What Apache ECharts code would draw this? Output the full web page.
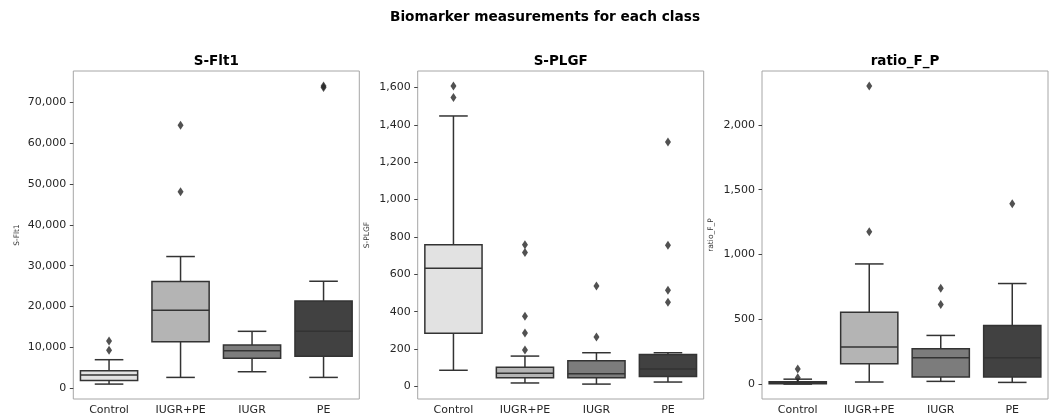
<!DOCTYPE html>
<html>
<head>
<meta charset="utf-8">
<script src="https://cdn.jsdelivr.net/npm/echarts@6/dist/echarts.min.js"></script>
<style>
  html, body { margin: 0; padding: 0; background: #fff; }
  #chart { width: 1057px; height: 419px; }
</style>
</head>
<body>
<div id="chart"></div>
<script>
// Classes shown on every x axis
const categories = ['Control', 'IUGR+PE', 'IUGR', 'PE'];

// Box summaries per class: [lower whisker, Q1, median, Q3, upper whisker]
const sflt1Boxes = [
  [980, 1880, 3190, 4260, 6960],
  [2620, 11380, 19080, 26120, 32260],
  [4010, 7290, 9170, 10560, 13920],
  [2620, 7780, 13920, 21370, 26200]
];
const sflt1Outliers = [[9250, 11540], [48140, 64430], [], [73700, 74100]];

const splgfBoxes = [
  [86, 284, 633, 758, 1448],
  [18, 46, 70, 102, 162],
  [12, 46, 68, 137, 180],
  [23, 52, 93, 171, 180]
];
const splgfOutliers = [[1547, 1609], [194, 285, 375, 717, 758], [264, 537], [450, 514, 755, 1309]];

const ratioBoxes = [
  [2, 5, 12, 20, 40],
  [18, 159, 287, 556, 928],
  [23, 56, 205, 274, 377],
  [15, 56, 205, 454, 777]
];
const ratioOutliers = [[50, 118], [1177, 2300], [615, 741], [1392]];

// Tick values on each y axis
const sflt1Ticks = [0, 10000, 20000, 30000, 40000, 50000, 60000, 70000];
const splgfTicks = [0, 200, 400, 600, 800, 1000, 1200, 1400, 1600];
const ratioTicks = [0, 500, 1000, 1500, 2000];

const panelTitles = ['S-Flt1', 'S-PLGF', 'ratio_F_P'];
const mainTitle = 'Biomarker measurements for each class';

// ---- styling ----
const FONT = 'DejaVu Sans';
const boxFills = ['#e2e2e2', '#b4b4b4', '#7c7c7c', '#414141'];
const edgeColor = '#333333';
const spineColor = '#a6a6a6';
const textColor = '#262626';

const panels = [
  { name: panelTitles[0], boxes: sflt1Boxes, outliers: sflt1Outliers, ticks: sflt1Ticks, left: 73.3, nameGap: 52 },
  { name: panelTitles[1], boxes: splgfBoxes, outliers: splgfOutliers, ticks: splgfTicks, left: 417.7, nameGap: 47 },
  { name: panelTitles[2], boxes: ratioBoxes, outliers: ratioOutliers, ticks: ratioTicks, left: 762, nameGap: 47 }
];
const PLOT_TOP = 71, PLOT_W = 286, PLOT_H = 328;

// Seaborn-style box: filled box, median line, whiskers with half-width caps
function renderBox(params, api) {
  const c = api.value(0);
  const lo = api.coord([c, api.value(1)]);
  const q1 = api.coord([c, api.value(2)]);
  const med = api.coord([c, api.value(3)]);
  const q3 = api.coord([c, api.value(4)]);
  const hi = api.coord([c, api.value(5)]);
  const band = api.size([1, 0])[0];
  const bw = band * 0.8, cw = bw / 2;
  const x = lo[0];
  const line = { stroke: edgeColor, lineWidth: 1.5 };
  return {
    type: 'group',
    children: [
      { type: 'line', shape: { x1: x, y1: q1[1], x2: x, y2: lo[1] }, style: line },
      { type: 'line', shape: { x1: x, y1: q3[1], x2: x, y2: hi[1] }, style: line },
      { type: 'line', shape: { x1: x - cw / 2, y1: lo[1], x2: x + cw / 2, y2: lo[1] }, style: line },
      { type: 'line', shape: { x1: x - cw / 2, y1: hi[1], x2: x + cw / 2, y2: hi[1] }, style: line },
      { type: 'rect', shape: { x: x - bw / 2, y: q3[1], width: bw, height: q1[1] - q3[1] },
        style: { fill: boxFills[c], stroke: edgeColor, lineWidth: 1.5 } },
      { type: 'line', shape: { x1: x - bw / 2, y1: med[1], x2: x + bw / 2, y2: med[1] }, style: line }
    ]
  };
}

const grids = [], xAxes = [], yAxes = [], series = [];
const titles = [{
  text: mainTitle, left: 545, top: 10, textAlign: 'center', padding: 0,
  textStyle: { fontFamily: FONT, fontSize: 13.7, fontWeight: 'bold', color: '#000' }
}];

panels.forEach((p, i) => {
  const all = p.boxes.flat().concat(p.outliers.flat());
  const lo = Math.min(...all), hi = Math.max(...all);
  const pad = (hi - lo) * 0.05;

  grids.push({ left: p.left, top: PLOT_TOP, width: PLOT_W, height: PLOT_H,
    show: true, borderColor: spineColor, borderWidth: 1, backgroundColor: 'transparent' });

  titles.push({
    text: p.name, left: p.left + PLOT_W / 2, top: 54, textAlign: 'center', padding: 0,
    textStyle: { fontFamily: FONT, fontSize: 13.5, fontWeight: 'bold', color: '#000' }
  });

  xAxes.push({
    type: 'category', gridIndex: i, data: categories, boundaryGap: true,
    axisLine: { show: false },
    axisTick: { alignWithLabel: true, length: 3.5, lineStyle: { color: '#444', width: 1 } },
    axisLabel: { fontFamily: FONT, fontSize: 11, color: textColor, margin: 6 },
    splitLine: { show: false }
  });

  yAxes.push({
    type: 'value', gridIndex: i, min: lo - pad, max: hi + pad,
    name: p.name, nameLocation: 'middle', nameRotate: 90, nameGap: p.nameGap,
    nameTextStyle: { fontFamily: FONT, fontSize: 7.5, color: '#333' },
    axisLine: { show: false },
    axisTick: { show: true, length: 3.5, customValues: p.ticks, lineStyle: { color: '#444', width: 1 } },
    axisLabel: { fontFamily: FONT, fontSize: 11, color: textColor, margin: 7,
      customValues: p.ticks, formatter: v => Number(v).toLocaleString('en-US') },
    splitLine: { show: false }
  });

  series.push({
    type: 'custom', xAxisIndex: i, yAxisIndex: i,
    renderItem: renderBox,
    encode: { x: 0, y: [1, 2, 3, 4, 5] },
    data: p.boxes.map((b, k) => [k].concat(b)),
    z: 2
  });

  const pts = [];
  p.outliers.forEach((vals, k) => vals.forEach(v => pts.push([k, v])));
  series.push({
    type: 'scatter', xAxisIndex: i, yAxisIndex: i,
    symbol: 'diamond', symbolSize: [6, 9],
    itemStyle: { color: '#262626' },
    data: pts, z: 3
  });
});

const chart = echarts.init(document.getElementById('chart'), null, { renderer: 'canvas' });
chart.setOption({
  animation: false,
  backgroundColor: '#fff',
  title: titles,
  grid: grids,
  xAxis: xAxes,
  yAxis: yAxes,
  series: series
});
</script>
</body>
</html>
